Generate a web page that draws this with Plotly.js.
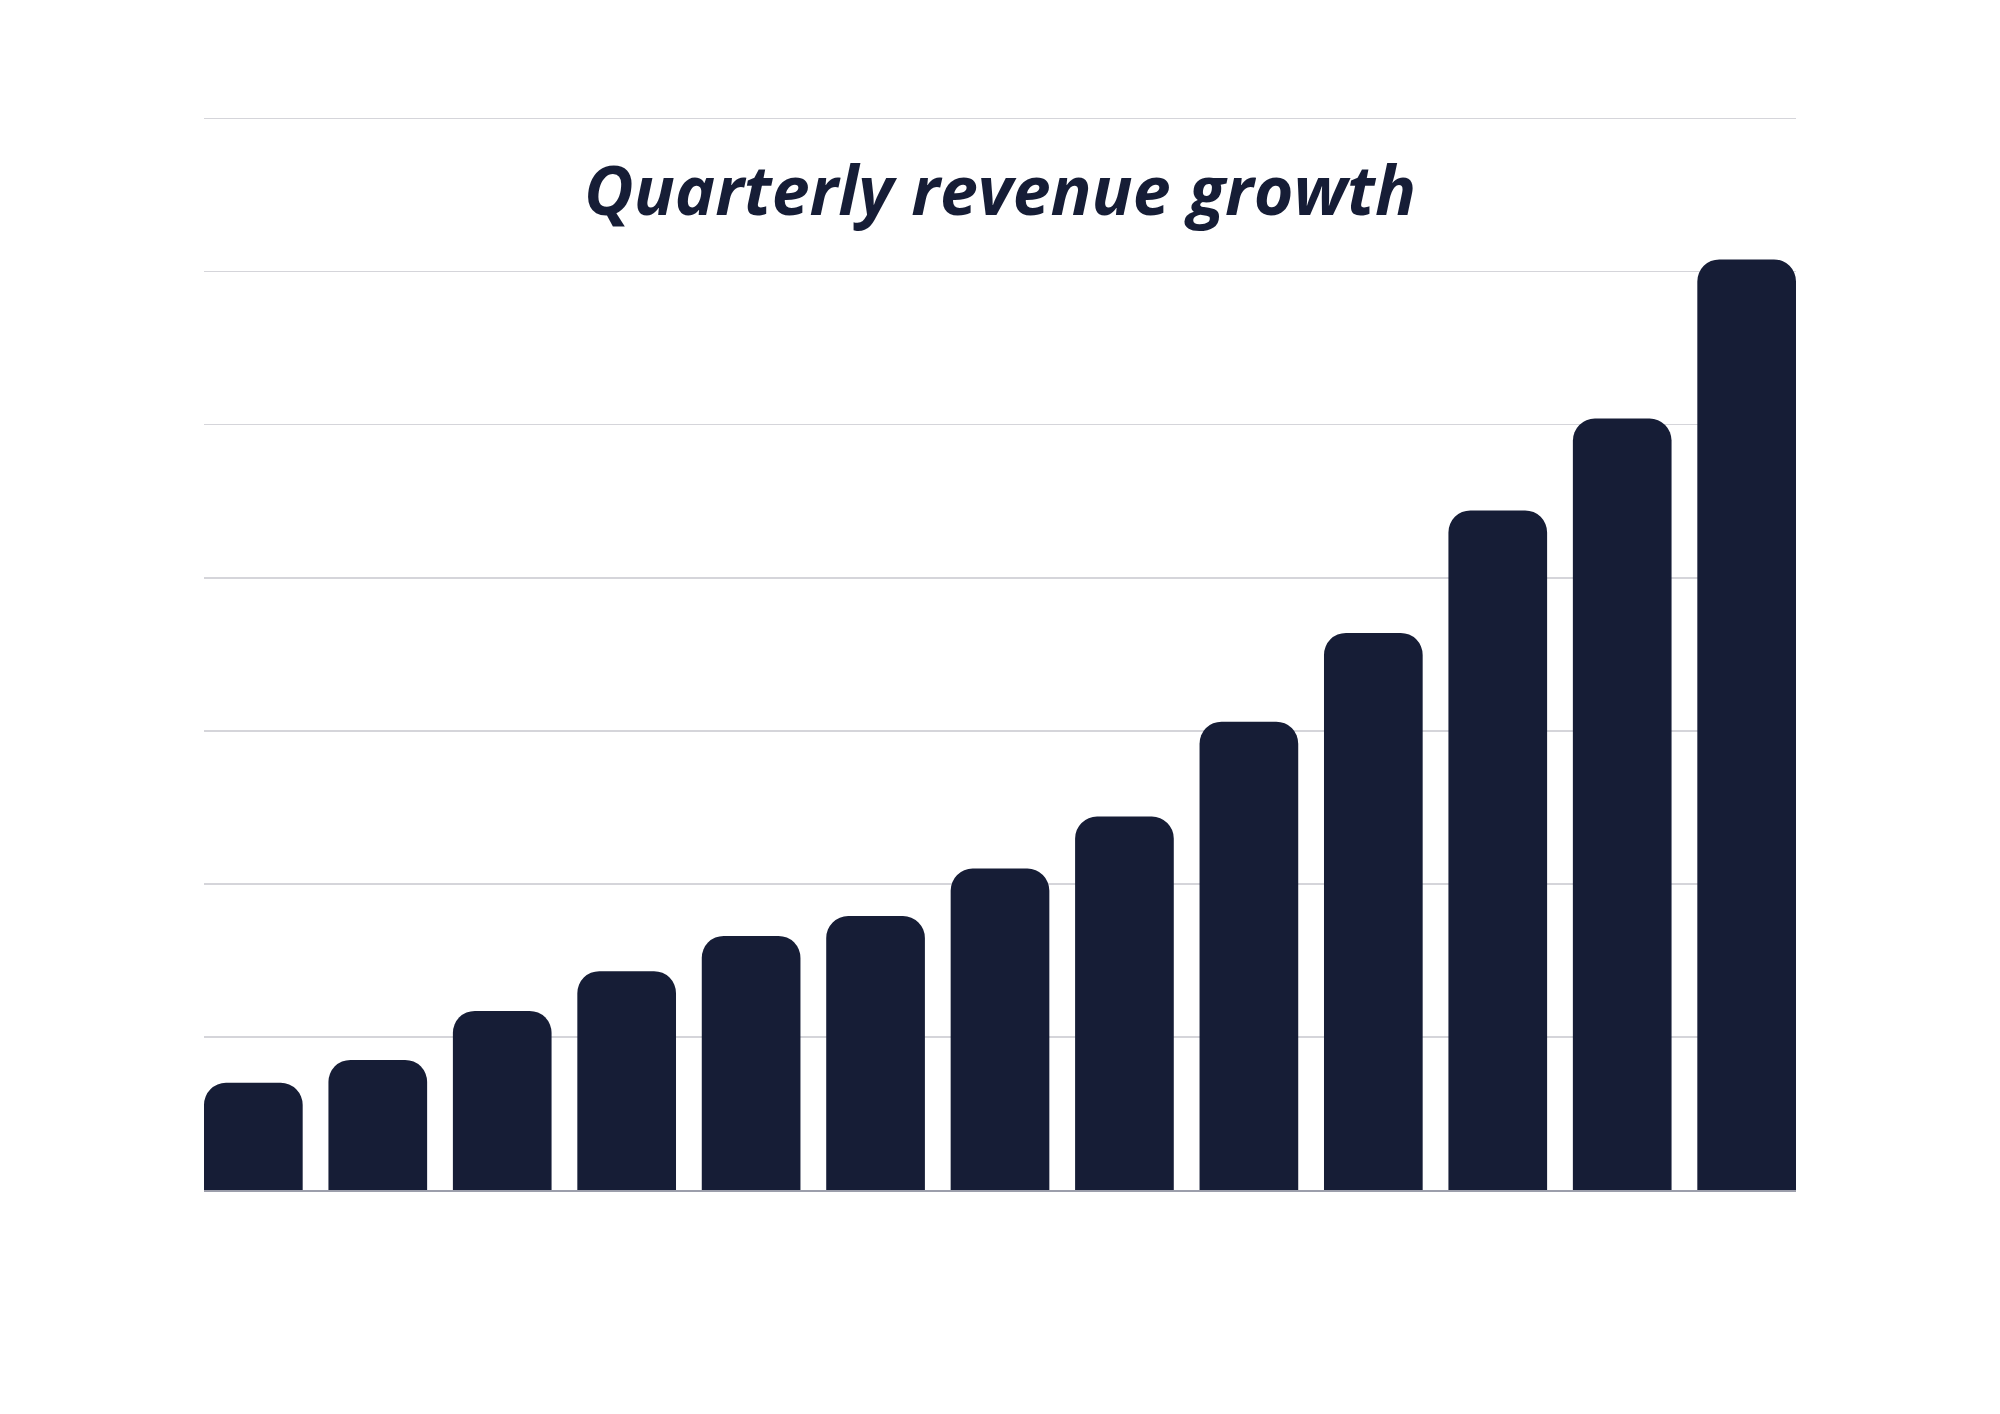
<!DOCTYPE html>
<html>
<head>
<meta charset="utf-8">
<script src="https://cdn.plot.ly/plotly-3.0.1.min.js"></script>
<style>
  html, body { margin: 0; padding: 0; background: #ffffff; }
  #chart { width: 2000px; height: 1414px; }
</style>
</head>
<body>
<div id="chart"></div>
<script>
// Quarterly revenue (gridlines every 10 units)
const quarters = ['Q1 2021', 'Q2 2021', 'Q3 2021', 'Q4 2021',
                  'Q1 2022', 'Q2 2022', 'Q3 2022', 'Q4 2022',
                  'Q1 2023', 'Q2 2023', 'Q3 2023', 'Q4 2023',
                  'Q1 2024'];
const revenue = [7.0, 8.5, 11.7, 14.3, 16.6, 17.9, 21.0, 24.4, 30.6, 36.4, 44.4, 50.4, 60.8];
const gridStep = 10;
const yMax = 70;

const barColor = '#161d36';
const barGap = 0.207;

const traces = [{
    type: 'bar',
    x: quarters,
    y: revenue,
    marker: { color: barColor, cornerradius: 22, line: { width: 0 } },
    hoverinfo: 'skip'
}];

const layout = {
    width: 2000,
    height: 1414,
    margin: { l: 204, r: 204, t: 117, b: 224 },
    paper_bgcolor: '#ffffff',
    plot_bgcolor: '#ffffff',
    showlegend: false,
    bargap: barGap,
    title: {
        text: '<i>Quarterly revenue growth</i>',
        font: { family: '"Open Sans", Lato, sans-serif', size: 68, color: barColor, weight: 700 },
        x: 0.5,
        xanchor: 'center',
        y: 0.865,
        yanchor: 'middle',
        yref: 'container'
    },
    xaxis: {
        type: 'category',
        range: [-0.5 + barGap / 2, quarters.length - 0.5 - barGap / 2],
        showgrid: false,
        zeroline: false,
        showticklabels: false,
        ticks: '',
        showline: true,
        linecolor: '#9c9eab',
        linewidth: 2
    },
    yaxis: {
        // a hair above the last gridline so that it is still drawn
        range: [0, yMax * 1.0015],
        dtick: gridStep,
        showgrid: true,
        gridcolor: '#d5d5da',
        gridwidth: 1.5,
        zeroline: false,
        showticklabels: false,
        ticks: ''
    }
};

Plotly.newPlot('chart', traces, layout, { staticPlot: true, displayModeBar: false });
</script>
</body>
</html>
